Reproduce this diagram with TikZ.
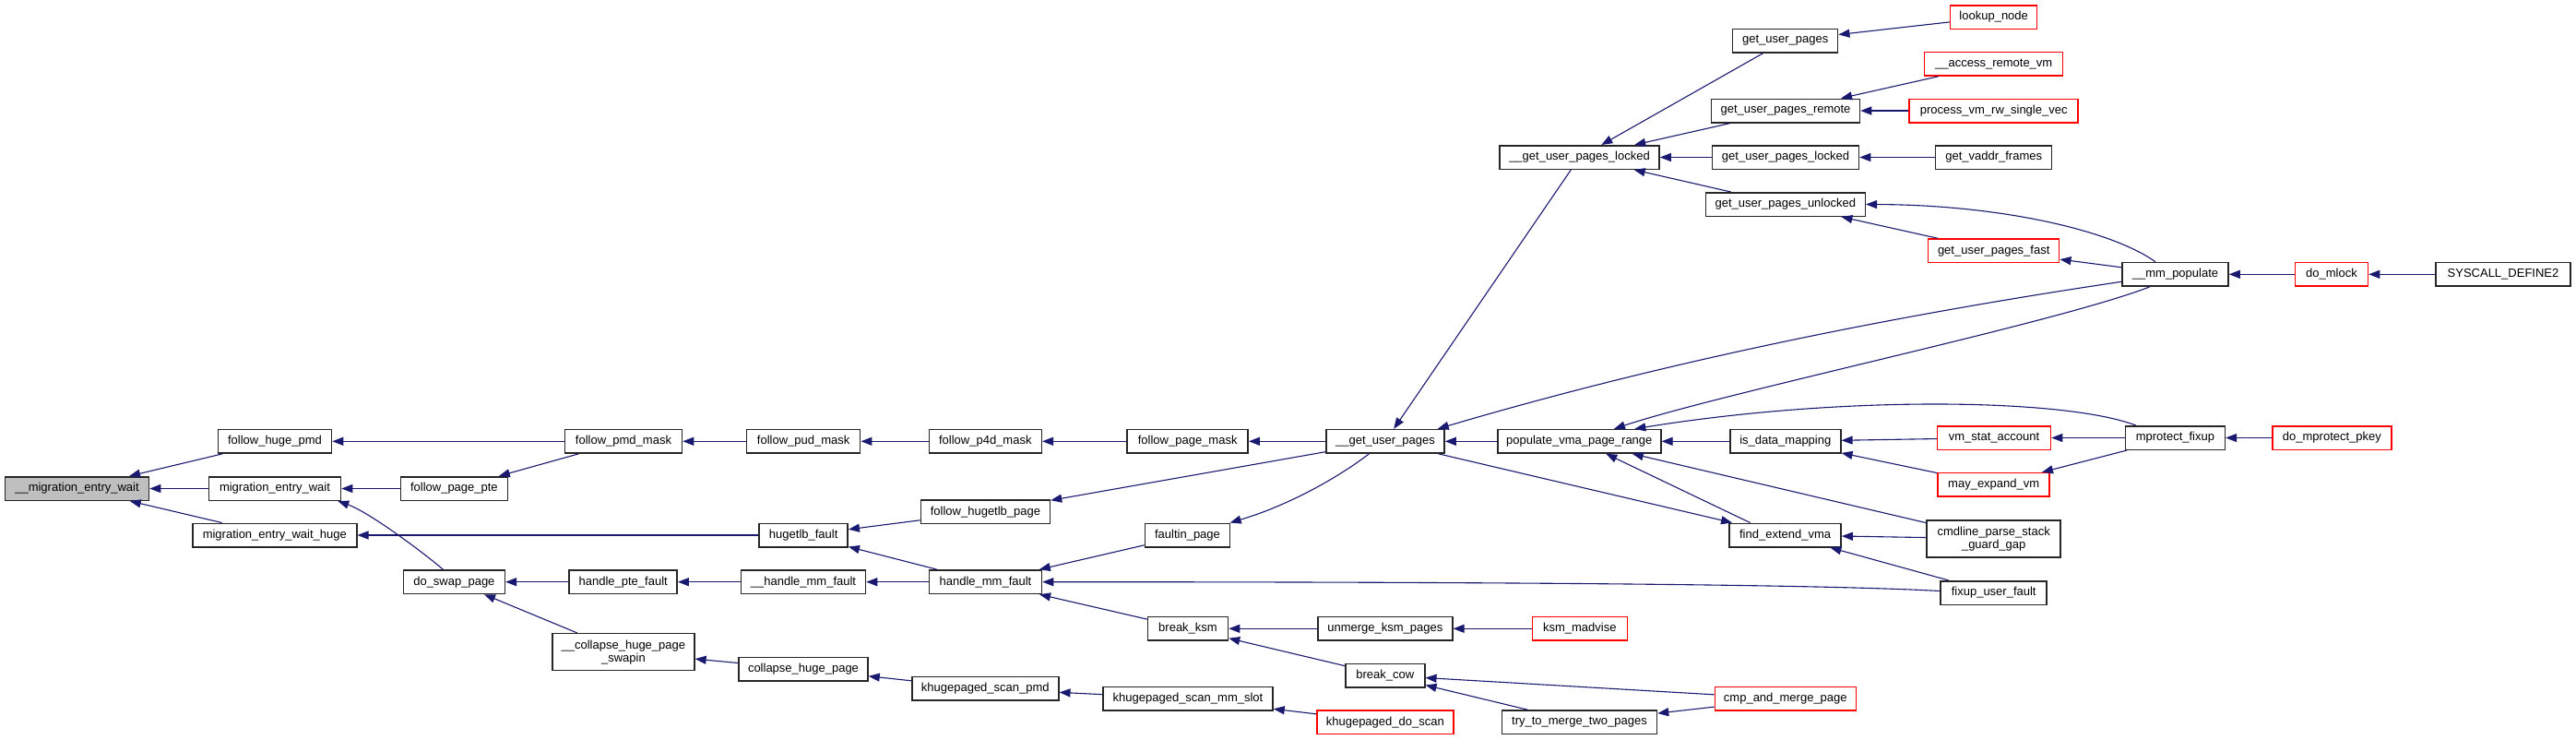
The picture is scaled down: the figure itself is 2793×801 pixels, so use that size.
\documentclass[tikz,border=0pt]{standalone}
\usepackage{fontspec}
\setmainfont{Liberation Sans}
\usetikzlibrary{arrows.meta}
\definecolor{edgeblue}{RGB}{25,25,112}
\definecolor{boxred}{RGB}{255,0,0}
\definecolor{rootgray}{RGB}{191,191,191}
\begin{document}
\begin{tikzpicture}[x=1pt,y=-1pt,
  fnbox/.style={draw=black!85, line width=1.5pt, fill=white, minimum height=25.5pt,
    inner sep=0pt, font=\fontsize{13}{14}\selectfont, align=center},
  redbox/.style={fnbox, draw=boxred},
  rootbox/.style={fnbox, fill=rootgray},
  tallbox/.style={minimum height=40pt},
  calledge/.style={draw=edgeblue, line width=1.1pt, -{Triangle[length=12pt,width=9pt]}}]
\useasboundingbox (0,0) rectangle (2793,801);

% column 1
\node[rootbox, minimum width=156] (mew) at (83.5,529.5) {\_\_migration\_entry\_wait};
% column 2
\node[fnbox, minimum width=123] (fhp) at (298,478.3) {follow\_huge\_pmd};
\node[fnbox, minimum width=143] (mw) at (298,529.5) {migration\_entry\_wait};
\node[fnbox, minimum width=178] (mwh) at (297.8,580) {migration\_entry\_wait\_huge};
% column 3
\node[fnbox, minimum width=116] (fpt) at (492.4,529.5) {follow\_page\_pte};
\node[fnbox, minimum width=110] (dsp) at (492.4,630.7) {do\_swap\_page};
% column 4
\node[fnbox, minimum width=127] (fpmd) at (676,478.3) {follow\_pmd\_mask};
\node[fnbox, minimum width=117] (hpf) at (675.7,630.7) {handle\_pte\_fault};
\node[fnbox, tallbox, minimum width=154] (chps) at (675.9,706.7) {\_\_collapse\_huge\_page\\\_swapin};
% column 5
\node[fnbox, minimum width=123] (fpud) at (871.2,478.3) {follow\_pud\_mask};
\node[fnbox, minimum width=96] (hf) at (871.2,580) {hugetlb\_fault};
\node[fnbox, minimum width=135] (hmfi) at (871,630.7) {\_\_handle\_mm\_fault};
\node[fnbox, minimum width=140] (chp) at (871,725.3) {collapse\_huge\_page};
% column 6
\node[fnbox, minimum width=122] (fp4d) at (1068.3,478.3) {follow\_p4d\_mask};
\node[fnbox, minimum width=140] (fhug) at (1068.5,554.7) {follow\_hugetlb\_page};
\node[fnbox, minimum width=122] (hmf) at (1068.5,630.7) {handle\_mm\_fault};
\node[fnbox, minimum width=159] (ksp) at (1068.3,746.3) {khugepaged\_scan\_pmd};
% column 7
\node[fnbox, minimum width=131] (fpm) at (1287.7,478.3) {follow\_page\_mask};
\node[fnbox, minimum width=92] (fip) at (1287.5,580) {faultin\_page};
\node[fnbox, minimum width=87] (bk) at (1288,681.3) {break\_ksm};
\node[fnbox, minimum width=184] (ksms) at (1288,757.3) {khugepaged\_scan\_mm\_slot};
% column 8
\node[fnbox, minimum width=128] (gup) at (1502,478.3) {\_\_get\_user\_pages};
\node[fnbox, minimum width=146] (uks) at (1501.8,681.3) {unmerge\_ksm\_pages};
\node[fnbox, minimum width=86] (bc) at (1501.8,732) {break\_cow};
\node[redbox, minimum width=148] (kds) at (1501.8,782.7) {khugepaged\_do\_scan};
% column 9
\node[fnbox, minimum width=173] (gupli) at (1712.5,170.5) {\_\_get\_user\_pages\_locked};
\node[fnbox, minimum width=177] (pvpr) at (1712.3,478.3) {populate\_vma\_page\_range};
\node[redbox, minimum width=103] (ksmm) at (1712.8,681.3) {ksm\_madvise};
\node[fnbox, minimum width=168] (ttm) at (1712.5,782.7) {try\_to\_merge\_two\_pages};
% column 10
\node[fnbox, minimum width=114] (gupa) at (1935.7,44) {get\_user\_pages};
\node[fnbox, minimum width=161] (gupr) at (1936,120) {get\_user\_pages\_remote};
\node[fnbox, minimum width=159] (gupl) at (1936,170.5) {get\_user\_pages\_locked};
\node[fnbox, minimum width=173] (gupu) at (1935.8,221.5) {get\_user\_pages\_unlocked};
\node[fnbox, minimum width=120] (idm) at (1935.8,478.3) {is\_data\_mapping};
\node[fnbox, minimum width=121] (fev) at (1935.6,580) {find\_extend\_vma};
\node[redbox, minimum width=153] (cmp) at (1935.8,757.3) {cmp\_and\_merge\_page};
% column 11
\node[redbox, minimum width=94] (ln) at (2161.7,18.5) {lookup\_node};
\node[redbox, minimum width=150] (arv) at (2161.7,69.3) {\_\_access\_remote\_vm};
\node[redbox, minimum width=183] (pvm) at (2161.7,120) {process\_vm\_rw\_single\_vec};
\node[fnbox, minimum width=126] (gvf) at (2161.7,170.5) {get\_vaddr\_frames};
\node[redbox, minimum width=142] (gupf) at (2161.7,271.8) {get\_user\_pages\_fast};
\node[redbox, minimum width=123] (vsa) at (2162,474.5) {vm\_stat\_account};
\node[redbox, minimum width=121] (mev) at (2161.7,525.3) {may\_expand\_vm};
\node[fnbox, tallbox, minimum width=145] (cpsg) at (2161.7,583.8) {cmdline\_parse\_stack\\\_guard\_gap};
\node[fnbox, minimum width=115] (fuf) at (2161.7,642.5) {fixup\_user\_fault};
% column 12
\node[fnbox, minimum width=115] (mmp) at (2358.5,297.3) {\_\_mm\_populate};
\node[fnbox, minimum width=108] (mpf) at (2358.4,474.5) {mprotect\_fixup};
% column 13
\node[redbox, minimum width=79] (dml) at (2528,297.3) {do\_mlock};
\node[redbox, minimum width=129] (dmp) at (2528.4,474.5) {do\_mprotect\_pkey};
% column 14
\node[fnbox, minimum width=146] (sys) at (2714,297.3) {SYSCALL\_DEFINE2};

% edges (caller -> callee)
\draw[calledge] (fhp) -- (mew);
\draw[calledge] (mw) -- (mew);
\draw[calledge] (mwh) -- (mew);
\draw[calledge] (fpmd) -- (fhp);
\draw[calledge] (fpt) -- (mw);
\draw[calledge] ([xshift=-12]dsp.north) .. controls (458,598) and (400,555) .. ([xshift=-4]mw.south east);
\draw[calledge] (hf) -- (mwh);
\draw[calledge] (fpmd) -- (fpt);
\draw[calledge] (fpud) -- (fpmd);
\draw[calledge] (fp4d) -- (fpud);
\draw[calledge] (fpm) -- (fp4d);
\draw[calledge] (gup) -- (fpm);
\draw[calledge] (gup) -- (fhug);
\draw[calledge] (fhug) -- (hf);
\draw[calledge] (hmf) -- (hf);
\draw[calledge] (hpf) -- (dsp);
\draw[calledge] (chps) -- (dsp);
\draw[calledge] (hmfi) -- (hpf);
\draw[calledge] (hmf) -- (hmfi);
\draw[calledge] (chp) -- (chps);
\draw[calledge] (ksp) -- (chp);
\draw[calledge] (ksms) -- (ksp);
\draw[calledge] (kds) -- (ksms);
\draw[calledge] (fip) -- (hmf);
\draw[calledge] ([yshift=2]fuf.west) .. controls (1950,632) and (1500,630.7) .. (hmf.east);
\draw[calledge] (bk) -- (hmf);
\draw[calledge] (gup) .. controls (1445,522) and (1390,550) .. (fip);
\draw[calledge] (uks) -- (bk);
\draw[calledge] (bc) -- (bk);
\draw[calledge] (ksmm) -- (uks);
\draw[calledge] (cmp) -- (bc);
\draw[calledge] (ttm) -- (bc);
\draw[calledge] (cmp) -- (ttm);
\draw[calledge] (gupli) -- (gup);
\draw[calledge] ([yshift=-8]mmp.west) .. controls (2053,342) and (1805,392) .. ([xshift=-8]gup.north east);
\draw[calledge] (pvpr) -- (gup);
\draw[calledge] (gup) -- (fev);
\draw[calledge] ([xshift=-38]fev.north) -- ([xshift=29]pvpr.south);
\draw[calledge] (cpsg) -- (pvpr);
\draw[calledge] (cpsg) -- (fev);
\draw[calledge] (fuf) -- (fev);
\draw[calledge] (idm) -- (pvpr);
\draw[calledge] ([xshift=-27.5]mmp.south) .. controls (2230,350) and (1870,425) .. ([xshift=37.7]pvpr.north);
\draw[calledge] ([xshift=-42.7]mpf.north) .. controls (2240,432) and (2000,428) .. ([xshift=60]pvpr.north);
\draw[calledge] (gupa) -- (gupli);
\draw[calledge] (gupr) -- (gupli);
\draw[calledge] (gupl) -- (gupli);
\draw[calledge] (gupu) -- (gupli);
\draw[calledge] (ln) -- (gupa);
\draw[calledge] (arv) -- (gupr);
\draw[calledge] (pvm) -- (gupr);
\draw[calledge] (gvf) -- (gupl);
\draw[calledge] ([xshift=-21.5]mmp.north) .. controls (2290,250) and (2170,222) .. (gupu.east);
\draw[calledge] (gupf) -- (gupu);
\draw[calledge] (mmp) -- (gupf);
\draw[calledge] (dml) -- (mmp);
\draw[calledge] (sys) -- (dml);
\draw[calledge] (vsa) -- (idm);
\draw[calledge] (mev) -- (idm);
\draw[calledge] (mpf) -- (vsa);
\draw[calledge] (mpf) -- (mev);
\draw[calledge] (dmp) -- (mpf);
\end{tikzpicture}
\end{document}
